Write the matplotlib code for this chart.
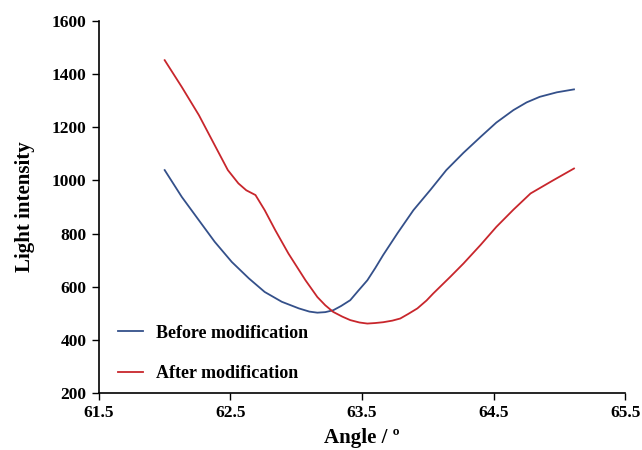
import numpy as np
import matplotlib.pyplot as plt

# data
angle_before = [62.00, 62.13, 62.26, 62.38, 62.51, 62.64, 62.76, 62.89, 63.02, 63.10,
                63.16, 63.22, 63.28, 63.34, 63.41, 63.47, 63.54, 63.60, 63.66, 63.77,
                63.89, 64.02, 64.14, 64.27, 64.40, 64.52, 64.65, 64.75, 64.85, 64.98,
                65.11]
light_before = [1039, 938, 850, 769, 693, 631, 580, 543, 518, 506,
                502, 504, 511, 527, 549, 584, 624, 670, 719, 802,
                888, 965, 1039, 1104, 1164, 1218, 1265, 1294, 1315, 1332,
                1343]

angle_after = [62.00, 62.13, 62.26, 62.38, 62.48, 62.56, 62.62, 62.69, 62.76, 62.84,
               62.94, 63.07, 63.16, 63.22, 63.28, 63.35, 63.41, 63.48, 63.54, 63.60,
               63.66, 63.73, 63.79, 63.85, 63.92, 63.99, 64.04, 64.17, 64.27, 64.40,
               64.52, 64.65, 64.78, 64.95, 65.11]
light_after = [1453, 1352, 1246, 1133, 1039, 989, 963, 945, 888, 813,
               725, 624, 561, 530, 505, 487, 474, 465, 461, 463,
               466, 472, 480, 497, 518, 548, 574, 637, 687, 757,
               825, 890, 951, 1000, 1045]

xticks = [61.5, 62.5, 63.5, 64.5, 65.5]
yticks = [200, 400, 600, 800, 1000, 1200, 1400, 1600]

plt.rcParams['font.family'] = ['Liberation Serif', 'DejaVu Serif']
plt.rcParams['font.weight'] = 'bold'

fig = plt.figure(figsize=(6.42, 4.5), dpi=100)
ax = fig.add_axes([0.154, 0.127, 0.82, 0.826])

ax.plot(angle_before, light_before, color='#34508a', lw=1.3, label='Before modification',
        solid_joinstyle='round')
ax.plot(angle_after, light_after, color='#c8262c', lw=1.3, label='After modification',
        solid_joinstyle='round')

ax.set_xlim(61.5, 65.5)
ax.set_ylim(200, 1600)
ax.set_xticks(xticks)
ax.set_xticklabels(['%.1f' % t for t in xticks])
ax.set_yticks(yticks)
ax.tick_params(direction='out', length=5, width=1, labelsize=12.5, pad=4)
for lab in ax.get_xticklabels() + ax.get_yticklabels():
    lab.set_fontweight('bold')
for s in ['top', 'right']:
    ax.spines[s].set_visible(False)
for s in ['left', 'bottom']:
    ax.spines[s].set_linewidth(1.2)

ax.set_xlabel('Angle / º', fontsize=15, fontweight='bold', labelpad=5)
ax.set_ylabel('Light intensity', fontsize=15, fontweight='bold', labelpad=12)

leg = ax.legend(loc='lower left', bbox_to_anchor=(0.005, -0.015), frameon=False,
                fontsize=13, handlelength=1.4, handletextpad=0.7, labelspacing=1.3)
for t in leg.get_texts():
    t.set_fontweight('bold')

fig.savefig('out.png', dpi=100)
